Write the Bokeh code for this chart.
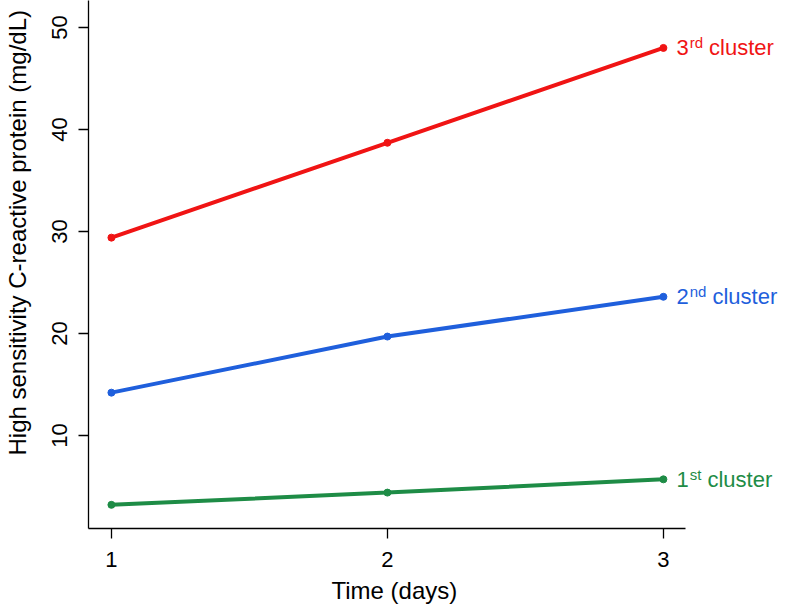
from bokeh.plotting import figure
from bokeh.models import Range1d, ColumnDataSource, Title, LinearAxis, FixedTicker
from bokeh.embed import file_html
from bokeh.resources import INLINE
from bokeh.core.properties import value

# ---- data ----
days = [1, 2, 3]
cluster1 = [3.2, 4.4, 5.7]
cluster2 = [14.2, 19.7, 23.6]
cluster3 = [29.4, 38.7, 48.0]
x_ticks = [1, 2, 3]
y_ticks = [10, 20, 30, 40, 50]
label_nums = ["1", "2", "3"]
label_sups = ["st", "nd", "rd"]
label_words = ["cluster", "cluster", "cluster"]
colors = ["#1E8C46", "#1F5FDC", "#F01414"]
x_title = "Time (days)"
y_title = "High sensitivity C-reactive protein (mg/dL)"

FONT = "Liberation Sans"
W = {"1": .556, "2": .556, "3": .556, "s": .5, "t": .278, "n": .556, "d": .556, "r": .333, " ": .278}

def width(s, size):
    return sum(W.get(c, .5) for c in s) * size

X_AXIS_END = 3.08
p = figure(width=786, height=611, output_backend="svg", toolbar_location=None,
           x_range=Range1d(0.917, 3.446), y_range=Range1d(0.88, 52.65),
           min_border_left=88, min_border_right=0, min_border_top=0, min_border_bottom=83)
p.outline_line_color = None
p.xgrid.visible = False
p.ygrid.visible = False

series = [cluster1, cluster2, cluster3]
for vals, col in zip(series, colors):
    p.line(days, vals, line_color=col, line_width=4)
    p.scatter(days, vals, size=7, fill_color=col, line_color=col)

NUM_SIZE = 22
SUP_SIZE = 15
base = 13
lx, ly, nums, sups, words, cols, off_sup, off_word = [], [], [], [], [], [], [], []
for vals, n, s, w, col in zip(series, label_nums, label_sups, label_words, colors):
    lx.append(days[-1]); ly.append(vals[-1])
    nums.append(n); sups.append(s); words.append(w); cols.append(col)
    o1 = base + width(n, NUM_SIZE) + 1
    off_sup.append(o1)
    off_word.append(o1 + width(s, SUP_SIZE) + width(" ", NUM_SIZE))

src = ColumnDataSource(dict(x=lx, y=ly, num=nums, sup=sups, word=words, col=cols,
                            osup=off_sup, oword=off_word))
common = dict(source=src, text_color="col", text_font=value(FONT),
              text_baseline="middle", text_align="left")
p.text("x", "y", text="num", x_offset=base, text_font_size=f"{NUM_SIZE}px", **common)
p.text("x", "y", text="sup", x_offset="osup", y_offset=-5, text_font_size=f"{SUP_SIZE}px", **common)
p.text("x", "y", text="word", x_offset="oword", text_font_size=f"{NUM_SIZE}px", **common)

for ax in (p.xaxis[0], p.yaxis[0]):
    ax.axis_line_color = "black"
    ax.axis_line_width = 1.3
    ax.major_tick_line_color = "black"
    ax.major_tick_line_width = 1.3
    ax.major_tick_out = 10
    ax.major_tick_in = 0
    ax.minor_tick_line_color = None
    ax.major_label_text_font = FONT
    ax.major_label_text_font_size = "22px"
    ax.major_label_text_color = "black"

p.xaxis.ticker = x_ticks
p.xaxis.bounds = (0.917, X_AXIS_END)
p.yaxis.ticker = y_ticks
p.xaxis.major_label_standoff = 13
p.yaxis.major_label_orientation = "vertical"
p.yaxis.major_label_standoff = 11

# invisible spacer axis: pushes the y title outwards, away from the tick labels
spacer = LinearAxis(ticker=FixedTicker(ticks=[30]), major_label_overrides={30: ""},
                    axis_line_color=None, major_tick_line_color=None,
                    minor_tick_line_color=None, major_tick_out=19, major_tick_in=0,
                    minor_tick_out=0, major_label_standoff=0,
                    major_label_text_font_size="0px")
p.add_layout(spacer, "left")

title_style = dict(text_font=FONT, text_font_size="24px", text_font_style="normal",
                   text_color="black", align="left")
p.add_layout(Title(text=x_title, offset=243, standoff=11, **title_style), "below")
p.add_layout(Title(text=y_title, offset=73, standoff=0, **title_style), "left")

open("out.html", "w").write(file_html(p, INLINE))
